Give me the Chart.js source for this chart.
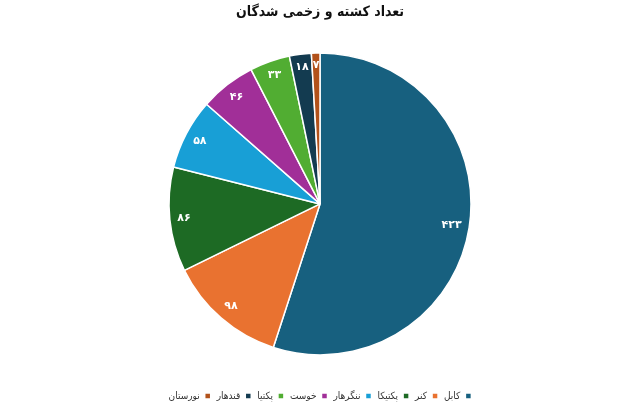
<!DOCTYPE html>
<html>
<head>
<meta charset="utf-8">
<script src="https://cdn.jsdelivr.net/npm/chart.js@4"></script>
<style>
  html, body { margin: 0; padding: 0; background: #fff; }
  #wrap { width: 640px; height: 408px; }
</style>
</head>
<body>
<div id="wrap"><canvas id="casualtyChart"></canvas></div>
<script>
const provinces = ['کابل', 'کنر', 'پکتیکا', 'ننگرهار', 'خوست', 'پکتیا', 'قندهار', 'نورستان'];
const casualties = [423, 98, 86, 58, 46, 33, 18, 7];
const sliceColors = ['#17607f', '#e97230', '#1d6a24', '#189fd6', '#a12f98', '#51ad32', '#133b50', '#b2521b'];

// ارقام فارسی
function faDigits(n) {
    return String(n).replace(/[0-9]/g, d => '۰۱۲۳۴۵۶۷۸۹'[d]);
}

// plugin kecil untuk label di dalam slice
const sliceLabels = {
    id: 'sliceLabels',
    afterDatasetsDraw(chart) {
        const ctx = chart.ctx;
        const meta = chart.getDatasetMeta(0);
        ctx.save();
        ctx.font = 'bold 11px "DejaVu Sans", sans-serif';
        ctx.fillStyle = '#fff';
        ctx.textAlign = 'center';
        ctx.textBaseline = 'middle';
        meta.data.forEach((arc, i) => {
            const p = arc.getProps(['x', 'y', 'startAngle', 'endAngle', 'outerRadius'], true);
            const mid = (p.startAngle + p.endAngle) / 2;
            const txt = faDigits(casualties[i]);
            const w = ctx.measureText(txt).width;
            const c = Math.cos(mid), s = Math.sin(mid);
            const d = p.outerRadius - 7 - (Math.abs(c) * w / 2 + Math.abs(s) * 5);
            ctx.fillText(txt, p.x + c * d, p.y + s * d);
        });
        ctx.restore();
    }
};

const ctx1 = document.getElementById('casualtyChart').getContext('2d');
const casualtyChart = new Chart(ctx1, {
    type: 'pie',
    data: {
        labels: provinces,
        datasets: [{
            data: casualties,
            backgroundColor: sliceColors,
            borderColor: '#fff',
            borderWidth: 1.5,
            radius: 151
        }]
    },
    options: {
        responsive: true,
        maintainAspectRatio: false,
        animation: false,
        layout: { padding: { top: 0, bottom: -3 } },
        plugins: {
            title: {
                display: true,
                text: 'تعداد کشته و زخمی شدگان',
                color: '#111',
                font: { size: 14, weight: 'bold', family: '"DejaVu Sans Condensed", "DejaVu Sans", sans-serif' },
                padding: { top: 4, bottom: 2 }
            },
            legend: {
                position: 'bottom',
                rtl: true,
                labels: {
                    boxWidth: 6,
                    boxHeight: 6,
                    padding: 6,
                    color: '#333',
                    font: { size: 10, family: '"DejaVu Sans Condensed", "DejaVu Sans", sans-serif' }
                }
            },
            tooltip: { enabled: false }
        }
    },
    plugins: [sliceLabels]
});
</script>
</body>
</html>
